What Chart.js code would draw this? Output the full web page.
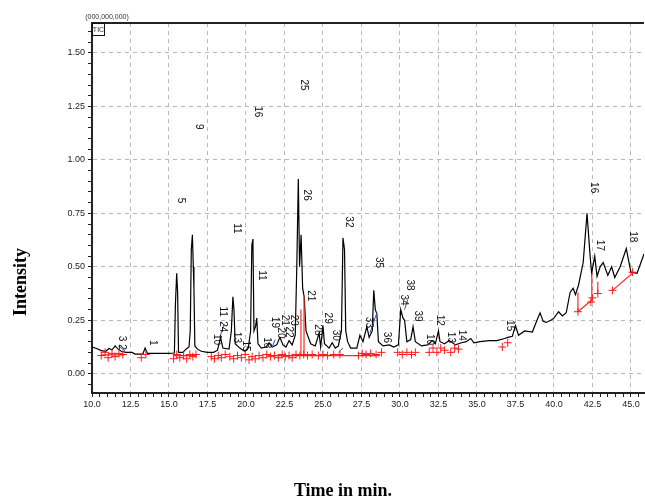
<!DOCTYPE html>
<html>
<head>
<meta charset="utf-8">
<title>TIC chromatogram</title>
<script src="https://cdn.jsdelivr.net/npm/chart.js@4.4.0/dist/chart.umd.min.js"></script>
<style>
  html, body { margin: 0; padding: 0; background: #fff; overflow: hidden; }
  #wrap { position: relative; width: 649px; height: 502px; }
</style>
</head>
<body>
<div id="wrap"><canvas id="ticChart"></canvas></div>
<script>
// TIC trace: retention time (min) and intensity (x 100,000,000)
const times = [10.0, 10.3, 10.6, 10.9, 11.1, 11.3, 11.5, 11.7, 11.9, 12.2, 12.6, 12.8, 13.3, 13.45, 13.6, 14.2, 15.0,
    15.35, 15.42, 15.5, 15.56, 15.62, 15.9, 16.1, 16.3, 16.38, 16.45, 16.52, 16.58, 16.62, 16.68, 16.85, 17.1, 17.5, 17.9,
    18.15, 18.35, 18.5, 18.9, 19.05, 19.15, 19.22, 19.3, 19.6, 19.9, 20.15, 20.3, 20.38, 20.45, 20.52, 20.62, 20.7, 20.78,
    21.0, 21.3, 21.5, 21.7, 22.0, 22.2, 22.4, 22.6, 22.8, 23.0, 23.2, 23.3, 23.4, 23.48, 23.58, 23.68, 23.78, 23.9,
    24.2, 24.5, 24.75, 24.85, 25.0, 25.1, 25.4, 25.6, 25.8, 26.0, 26.2, 26.3, 26.4, 26.48, 26.6, 26.8, 27.2, 27.4, 27.6,
    27.85, 28.0, 28.2, 28.3, 28.4, 28.5, 28.6, 28.9, 29.3, 29.6, 29.9, 30.05, 30.2, 30.3, 30.45, 30.7, 30.85, 31.0, 31.4,
    31.8, 32.1, 32.3, 32.5, 32.6, 32.9, 33.2, 33.6, 34.0, 34.3, 34.6, 34.8, 35.2, 35.8, 36.3, 36.8, 37.0, 37.3, 37.5, 37.7,
    38.1, 38.6, 38.9, 39.1, 39.3, 39.5, 39.8, 40.0, 40.3, 40.55, 40.8, 41.05, 41.25, 41.4, 41.6, 41.9, 42.15, 42.35, 42.45,
    42.65, 42.8, 43.0, 43.2, 43.5, 43.75, 43.95, 44.3, 44.7, 45.0, 45.4, 45.85];
const intensity = [0.125, 0.118, 0.108, 0.105, 0.118, 0.112, 0.13, 0.115, 0.105, 0.1, 0.1, 0.092, 0.092, 0.12, 0.095, 0.095, 0.095,
    0.097, 0.33, 0.47, 0.38, 0.1, 0.1, 0.115, 0.125, 0.2, 0.58, 0.65, 0.5, 0.4, 0.13, 0.115, 0.105, 0.1, 0.1,
    0.11, 0.17, 0.12, 0.115, 0.2, 0.36, 0.3, 0.14, 0.12, 0.105, 0.12, 0.2, 0.6, 0.63, 0.2, 0.22, 0.26, 0.14,
    0.12, 0.125, 0.145, 0.125, 0.135, 0.17, 0.135, 0.125, 0.155, 0.135, 0.18, 0.5, 0.91, 0.5, 0.65, 0.4, 0.36, 0.2,
    0.14, 0.13, 0.19, 0.125, 0.225, 0.14, 0.12, 0.145, 0.12, 0.13, 0.2, 0.635, 0.58, 0.2, 0.15, 0.12, 0.12, 0.18, 0.15,
    0.22, 0.17, 0.2, 0.39, 0.3, 0.28, 0.15, 0.13, 0.135, 0.125, 0.135, 0.3, 0.26, 0.25, 0.15, 0.16, 0.22, 0.15, 0.13,
    0.135, 0.155, 0.14, 0.2, 0.15, 0.14, 0.155, 0.135, 0.145, 0.15, 0.165, 0.145, 0.15, 0.155, 0.155, 0.165, 0.17, 0.175, 0.225, 0.18,
    0.2, 0.195, 0.25, 0.285, 0.245, 0.24, 0.25, 0.26, 0.29, 0.27, 0.285, 0.38, 0.4, 0.37, 0.415, 0.52, 0.75, 0.55, 0.47,
    0.55, 0.455, 0.5, 0.52, 0.46, 0.5, 0.45, 0.5, 0.585, 0.475, 0.47, 0.56];

// integration baselines (red), null breaks the line between segments
const baseX = [10.6, 12.1, null, 15.3, 16.8, null, 21.4, 28.7, null, 23.57, 23.57, null, 23.77, 23.77, null,
    41.56, 42.46, null, 41.56, 41.56, null, 42.46, 42.46, null, 42.85, 42.85, null, 43.8, 45.1];
const baseY = [0.088, 0.088, null, 0.085, 0.085, null, 0.085, 0.085, null, 0.085, 0.30, null, 0.085, 0.36, null,
    0.29, 0.345, null, 0.29, 0.38, null, 0.345, 0.47, null, 0.375, 0.43, null, 0.39, 0.47];

// label leader lines (blue)
const leadX = [11.7, 12.15, null, 18.3, 18.57, null, 21.7, 21.9, null, 26.0, 26.3, null, 28.05, 28.5, null, 30.3, 30.5];
const leadY = [0.13, 0.107, null, 0.17, 0.23, null, 0.125, 0.16, null, 0.1, 0.12, null, 0.19, 0.285, null, 0.3, 0.345];

// peak start / end markers (red crosses)
const markX = [10.6, 10.85, 11.05, 11.3, 11.5, 11.75, 12.0, 13.2, 13.5,
    15.3, 15.5, 15.7, 15.95, 16.15, 16.35, 16.55, 16.75,
    17.75, 17.95, 18.2, 18.4, 18.65, 18.95, 19.2, 19.45, 19.7, 19.95,
    20.2, 20.4, 20.6, 20.85, 21.1, 21.35, 21.6, 21.85, 22.1, 22.35, 22.55, 22.8, 23.0, 23.25, 23.5, 23.75, 24.0, 24.3,
    24.7, 25.0, 25.3, 25.7, 26.1, 27.3, 27.55, 27.8, 28.1, 28.45, 28.8,
    29.85, 30.15, 30.45, 30.75, 31.0, 31.9, 32.15, 32.4, 32.65, 32.9, 33.3, 33.55, 33.8,
    36.65, 37.0, 41.56, 42.4, 42.5, 42.85, 43.8, 45.1];
const markY = [0.085, 0.1, 0.075, 0.095, 0.08, 0.095, 0.09, 0.075, 0.09,
    0.07, 0.09, 0.075, 0.085, 0.07, 0.09, 0.08, 0.09,
    0.08, 0.07, 0.085, 0.075, 0.09, 0.08, 0.07, 0.085, 0.075, 0.09,
    0.065, 0.08, 0.07, 0.085, 0.075, 0.09, 0.08, 0.085, 0.075, 0.09, 0.08, 0.085, 0.075, 0.09, 0.085, 0.09, 0.085, 0.09,
    0.085, 0.09, 0.085, 0.09, 0.09, 0.085, 0.095, 0.09, 0.095, 0.09, 0.1,
    0.1, 0.09, 0.1, 0.09, 0.1, 0.1, 0.12, 0.1, 0.12, 0.11, 0.1, 0.12, 0.115,
    0.125, 0.145, 0.29, 0.335, 0.355, 0.375, 0.39, 0.475];

// peak numbers (rotated) and where they sit
const peakText = ['9', '16', '25', '5', '11', '26', '32', '35', '11', '21', '38', '34', '39', '36', '33', '30', '29', '28',
    '23', '22', '21', '20', '19', '18', '15', '13', '24', '11', '10', '3', '2', '1', '16', '17', '18', '15', '14', '13', '12', '10'];
const peakX = [16.95, 20.78, 23.77, 15.78, 19.42, 23.96, 26.69, 28.64, 21.04, 24.22, 30.65, 30.26, 31.17, 29.16, 28.0, 25.84, 25.32, 24.68,
    23.1, 22.8, 22.5, 22.27, 21.88, 21.36, 20.0, 19.42, 18.5, 18.5, 18.1, 11.95, 11.9, 13.96, 42.6, 42.99, 45.13, 37.14, 34.0, 33.3, 32.6, 31.95];
const peakY = [1.155, 1.225, 1.35, 0.81, 0.68, 0.835, 0.71, 0.52, 0.46, 0.365, 0.415, 0.345, 0.27, 0.17, 0.24, 0.18, 0.26, 0.205,
    0.25, 0.195, 0.25, 0.19, 0.24, 0.145, 0.13, 0.17, 0.22, 0.29, 0.16, 0.165, 0.125, 0.145, 0.87, 0.6, 0.64, 0.225, 0.18, 0.17, 0.25, 0.16];

// axis tick labels (minor ticks every 0.5 min / 0.05)
const xTickLabels = ['10.0', '12.5', '15.0', '17.5', '20.0', '22.5', '25.0', '27.5', '30.0', '32.5', '35.0', '37.5', '40.0', '42.5', '45.0'];
const yTickLabels = ['0.00', '0.25', '0.50', '0.75', '1.00', '1.25', '1.50'];

const tickFont = '"Liberation Sans Narrow", "Liberation Sans", Arial, sans-serif';

function toPoints(xs, ys) {
    return xs.map((v, i) => ({ x: v === null ? NaN : v, y: ys[i] }));
}

// titles, frame, peak numbers and the TIC box
const decorations = {
    id: 'decorations',
    afterDatasetsDraw(chart) {
        const { ctx, chartArea, scales: { x, y } } = chart;
        ctx.save();

        // top frame line
        ctx.strokeStyle = '#222';
        ctx.lineWidth = 2;
        ctx.beginPath();
        ctx.moveTo(chartArea.left, chartArea.top);
        ctx.lineTo(chartArea.right, chartArea.top);
        ctx.stroke();

        // peak numbers, rotated clockwise
        ctx.fillStyle = '#111';
        ctx.font = '10px ' + tickFont;
        ctx.textAlign = 'center';
        ctx.textBaseline = 'middle';
        peakText.forEach((t, i) => {
            ctx.save();
            ctx.translate(x.getPixelForValue(peakX[i]), y.getPixelForValue(peakY[i]));
            ctx.rotate(Math.PI / 2);
            ctx.fillText(t, 0, 0);
            ctx.restore();
        });

        // scale factor and TIC box
        ctx.font = '7px ' + tickFont;
        ctx.fillStyle = '#333';
        ctx.fillText('(000,000,000)', chartArea.left + 15, chartArea.top - 6);
        ctx.lineWidth = 1;
        ctx.strokeStyle = '#111';
        ctx.strokeRect(chartArea.left + 0.5, chartArea.top + 0.5, 12, 12);
        ctx.fillText('TIC', chartArea.left + 6.5, chartArea.top + 7);

        // axis titles
        ctx.fillStyle = '#000';
        ctx.font = 'bold 18px "Liberation Serif", "Times New Roman", serif';
        ctx.fillText('Time in min.', 343, 491);
        ctx.save();
        ctx.translate(21, 282);
        ctx.rotate(-Math.PI / 2);
        ctx.fillText('Intensity', 0, 0);
        ctx.restore();

        ctx.restore();
    }
};

function initChart() {
    console.log('Building TIC chart...');
    const canvas = document.getElementById('ticChart');
    if (!canvas) {
        console.error('Canvas not found!');
        return;
    }

    const isMajor = (v, step) => Math.abs(v / step - Math.round(v / step)) < 1e-6;

    new Chart(canvas.getContext('2d'), {
        type: 'line',
        data: {
            datasets: [
                {
                    label: 'Markers',
                    data: toPoints(markX, markY),
                    showLine: false,
                    pointStyle: 'cross',
                    pointRadius: 4,
                    pointBorderWidth: 1,
                    pointBorderColor: '#ff1a1a',
                    borderColor: '#ff1a1a'
                },
                {
                    label: 'Baseline',
                    data: toPoints(baseX, baseY),
                    borderColor: '#ff2a2a',
                    borderWidth: 1.2,
                    pointRadius: 0,
                    spanGaps: false
                },
                {
                    label: 'Leaders',
                    data: toPoints(leadX, leadY),
                    borderColor: '#3355bb',
                    borderWidth: 1,
                    pointRadius: 0,
                    spanGaps: false
                },
                {
                    label: 'TIC',
                    data: toPoints(times, intensity),
                    borderColor: '#000',
                    borderWidth: 1.2,
                    pointRadius: 0,
                    tension: 0
                }
            ]
        },
        options: {
            responsive: true,
            maintainAspectRatio: false,
            animation: false,
            layout: { padding: { top: 23, right: 0, left: 0, bottom: 0 } },
            plugins: {
                legend: { display: false },
                tooltip: { enabled: false }
            },
            scales: {
                x: {
                    type: 'linear',
                    min: 10,
                    max: 45.85,
                    afterFit: (scale) => { scale.height = 109; },
                    border: { display: true, color: '#222', width: 2, dash: [4, 4] },
                    grid: {
                        color: (c) => (isMajor(c.tick.value, 2.5) && c.tick.value > 10 ? '#b8b8b8' : 'rgba(0,0,0,0)'),
                        tickColor: '#222',
                        tickLength: 4,
                        lineWidth: 1
                    },
                    ticks: {
                        stepSize: 0.5,
                        includeBounds: false,
                        autoSkip: false,
                        maxRotation: 0,
                        padding: 2,
                        color: '#222',
                        font: { family: tickFont, size: 9 },
                        callback: (v) => {
                            const s = Number(v).toFixed(1);
                            return xTickLabels.includes(s) ? s : '';
                        }
                    }
                },
                y: {
                    min: -0.09,
                    max: 1.64,
                    afterFit: (scale) => { scale.width = 92; },
                    border: { display: true, color: '#222', width: 2, dash: [4, 4] },
                    grid: {
                        color: (c) => (isMajor(c.tick.value, 0.25) ? '#b8b8b8' : 'rgba(0,0,0,0)'),
                        tickColor: '#222',
                        tickLength: 4,
                        lineWidth: 1
                    },
                    ticks: {
                        stepSize: 0.05,
                        includeBounds: false,
                        autoSkip: false,
                        padding: 3,
                        color: '#222',
                        font: { family: tickFont, size: 9 },
                        callback: (v) => {
                            const s = Number(v).toFixed(2);
                            return yTickLabels.includes(s) ? s : '';
                        }
                    }
                }
            }
        },
        plugins: [decorations]
    });
    console.log('TIC chart done');
}

document.addEventListener('DOMContentLoaded', function() {
    initChart();
});
</script>
</body>
</html>
